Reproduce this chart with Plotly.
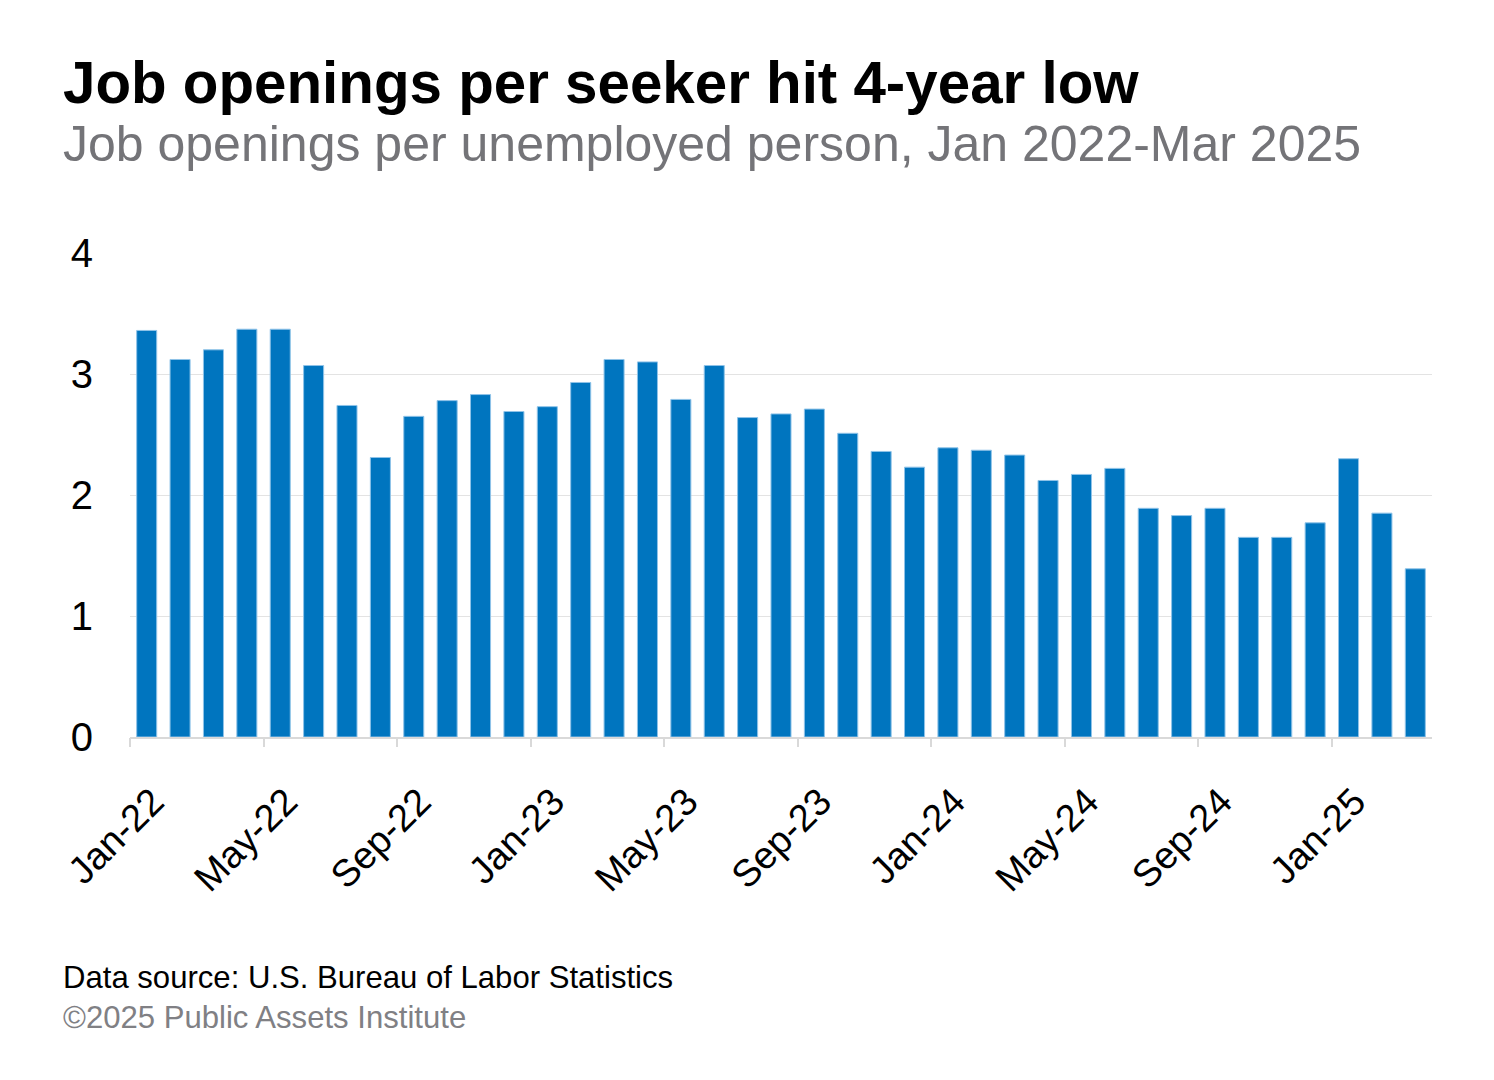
import plotly.graph_objects as go

months = ["Jan-22","Feb-22","Mar-22","Apr-22","May-22","Jun-22","Jul-22","Aug-22","Sep-22","Oct-22","Nov-22","Dec-22",
          "Jan-23","Feb-23","Mar-23","Apr-23","May-23","Jun-23","Jul-23","Aug-23","Sep-23","Oct-23","Nov-23","Dec-23",
          "Jan-24","Feb-24","Mar-24","Apr-24","May-24","Jun-24","Jul-24","Aug-24","Sep-24","Oct-24","Nov-24","Dec-24",
          "Jan-25","Feb-25","Mar-25"]
values = [3.36, 3.12, 3.20, 3.37, 3.37, 3.07, 2.74, 2.31, 2.65, 2.78, 2.83, 2.69,
          2.73, 2.93, 3.12, 3.10, 2.79, 3.07, 2.64, 2.67, 2.71, 2.51, 2.36, 2.23,
          2.39, 2.37, 2.33, 2.12, 2.17, 2.22, 1.89, 1.83, 1.89, 1.65, 1.65, 1.77,
          2.30, 1.85, 1.39]
y_ticks = [0, 1, 2, 3, 4]

title = "Job openings per seeker hit 4-year low"
subtitle = "Job openings per unemployed person, Jan 2022-Mar 2025"
source = "Data source: U.S. Bureau of Labor Statistics"
credit = "©2025 Public Assets Institute"

FONT = "Liberation Sans, Arial, sans-serif"
idx = list(range(len(months)))
label_idx = idx[::4]
label_pos = [i + 0.18 for i in label_idx]
boundary_idx = [i - 0.5 for i in label_idx]

W, H = 1494, 1080
l, r, t, b = 130, 62, 253, 343
pw, ph = W - l - r, H - t - b

def px_x(v):
    return (v - l) / pw

def px_y(v):
    return 1 - (v - t) / ph

fig = go.Figure()
fig.add_trace(go.Bar(
    x=idx, y=values, width=0.6,
    marker=dict(color="#0075BF", line=dict(color="#8fc3e8", width=1)),
    hoverinfo="skip", showlegend=False,
))
# invisible trace on secondary axis to host boundary tick marks
fig.add_trace(go.Scatter(x=[boundary_idx[0]], y=[0], xaxis="x2", mode="markers",
                         marker=dict(opacity=0), showlegend=False, hoverinfo="skip"))

fig.update_layout(
    width=W, height=H,
    margin=dict(l=l, r=r, t=t, b=b),
    paper_bgcolor="white", plot_bgcolor="white",
    font=dict(family=FONT, color="black"),
    xaxis=dict(
        range=[-0.5, len(months) - 0.5],
        tickmode="array", tickvals=label_pos, ticktext=[months[i] for i in label_idx],
        tickangle=-45, tickfont=dict(size=38, color="black"),
        ticks="", showgrid=False, zeroline=False, ticklabelstandoff=25,
        showline=True, linecolor="#d9d9d9", linewidth=2,
    ),
    xaxis2=dict(
        overlaying="x", side="bottom", anchor="y",
        range=[-0.5, len(months) - 0.5],
        tickmode="array", tickvals=boundary_idx, ticktext=[""] * len(boundary_idx),
        ticks="outside", ticklen=9, tickwidth=2, tickcolor="#d9d9d9",
        showgrid=False, zeroline=False, showline=False,
    ),
    yaxis=dict(
        range=[0, 4], tickmode="array", tickvals=y_ticks,
        tickfont=dict(size=40, color="black"),
        showgrid=True, gridcolor="#e3e3e3", gridwidth=1,
        zeroline=False, showline=False, ticks="", ticklabelstandoff=36,
    ),
    annotations=[
        dict(text="<b>" + title + "</b>", x=px_x(61), y=px_y(48), xref="paper", yref="paper",
             showarrow=False, xanchor="left", yanchor="top",
             font=dict(size=58.3, color="black", family=FONT)),
        dict(text=subtitle, x=px_x(61), y=px_y(114), xref="paper", yref="paper",
             showarrow=False, xanchor="left", yanchor="top",
             font=dict(size=50, color="#747478", family=FONT)),
        dict(text=source, x=px_x(61), y=px_y(958), xref="paper", yref="paper",
             showarrow=False, xanchor="left", yanchor="top",
             font=dict(size=31.1, color="black", family=FONT)),
        dict(text=credit, x=px_x(61), y=px_y(998), xref="paper", yref="paper",
             showarrow=False, xanchor="left", yanchor="top",
             font=dict(size=31.1, color="#808084", family=FONT)),
    ],
)

fig.write_html("out.html")
